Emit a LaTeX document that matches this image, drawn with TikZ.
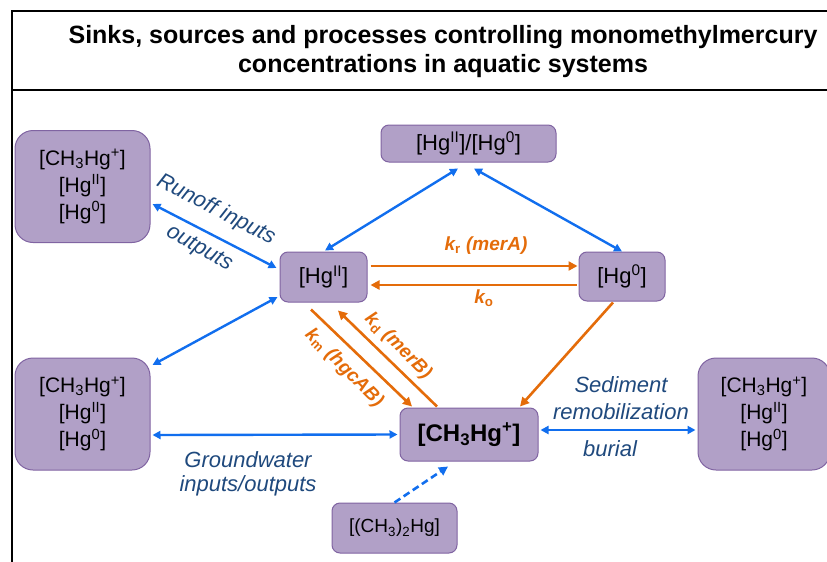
\documentclass[tikz,border=0pt]{standalone}
\usepackage{fontspec}
\setmainfont{Liberation Sans}
\usetikzlibrary{arrows.meta}
\definecolor{boxfill}{RGB}{177,160,199}
\definecolor{boxline}{RGB}{128,100,162}
\definecolor{arrblue}{RGB}{17,110,238}
\definecolor{arrorange}{RGB}{228,108,10}
\definecolor{lblblue}{RGB}{31,73,125}
\tikzset{
  pbox/.style={draw=boxline, fill=boxfill, line width=1pt, rounded corners=8pt, inner sep=0pt, align=center, font=\fontsize{22}{27}\selectfont},
  bigbox/.style={pbox, rounded corners=18pt, minimum width=135pt, minimum height=112pt, font=\fontsize{21}{27}\selectfont},
  bluearr/.style={draw=arrblue, line width=2.4pt, {Triangle[length=8pt,width=8pt]}-{Triangle[length=8pt,width=8pt]}},
  orarr/.style={draw=arrorange, line width=2.6pt, -{Triangle[length=9pt,width=9pt]}},
  lbl/.style={text=lblblue, font=\fontsize{22}{26}\selectfont\itshape, inner sep=0pt},
  klbl/.style={text=arrorange, font=\fontsize{19}{22}\selectfont\bfseries\itshape, inner sep=0pt},
}
\newcommand{\mmhg}{[CH\textsubscript{3}Hg\textsuperscript{+}]}
\newcommand{\hgtwo}{[Hg\textsuperscript{II}]}
\newcommand{\hgzero}{[Hg\textsuperscript{0}]}
\newcommand{\ksub}[1]{k\textsubscript{\upshape #1}}
\begin{document}
\begin{tikzpicture}[x=1pt,y=-1pt]
\useasboundingbox (0,0) rectangle (827,562);
\clip (0,0) rectangle (827,562);
% title frame
\draw[line width=2.2pt] (840,11) -- (12,11) -- (12,570);
\draw[line width=2.2pt] (12,90) -- (840,90);
\node[font=\fontsize{25}{29}\selectfont\bfseries, align=center] (title) at (443,52) {Sinks, sources and processes controlling monomethylmercury\\concentrations in aquatic systems};
% boxes
\node[bigbox] (tl) at (82.5,186.5) {\mmhg\\\hgtwo\\\hgzero};
\node[bigbox] (bl) at (82.5,414) {\mmhg\\\hgtwo\\\hgzero};
\node[bigbox, minimum width=132pt] (rb) at (764,414) {\mmhg\\\hgtwo\\\hgzero};
\node[pbox, minimum width=175pt, minimum height=37pt] (top) at (468.5,143.5) {\hgtwo/\hgzero};
\node[pbox, minimum width=87pt, minimum height=50pt] (hg2) at (323.5,277) {\hgtwo};
\node[pbox, minimum width=86pt, minimum height=49pt] (hg0) at (622,276.5) {\hgzero};
\node[pbox, minimum width=138pt, minimum height=53pt, font=\fontsize{24}{28}\selectfont\bfseries] (mm) at (469,434.5) {\mmhg};
\node[pbox, minimum width=125pt, minimum height=50pt, font=\fontsize{19}{22}\selectfont] (dm) at (394.5,528) {[(CH\textsubscript{3})\textsubscript{2}Hg]};
% blue arrows
\draw[bluearr] ([xshift=2pt,yshift=-17.5pt]tl.east) -- ([xshift=-3pt,yshift=9pt]hg2.west);
\draw[bluearr] ([xshift=1.5pt,yshift=1pt]hg2.north) -- ([xshift=-10.5pt,yshift=-6pt]top.south);
\draw[bluearr] ([xshift=5.5pt,yshift=-6pt]top.south) -- (hg0.north);
\draw[bluearr] ([xshift=-2pt,yshift=-20pt]hg2.west) -- ([xshift=2pt,yshift=49pt]bl.east);
\draw[bluearr] ([xshift=2pt,yshift=-21pt]bl.east) -- ([xshift=-2pt]mm.west);
\draw[bluearr] ([xshift=2pt,yshift=4.5pt]mm.east) -- ([xshift=-2pt,yshift=-16pt]rb.west);
\draw[draw=arrblue, line width=2.6pt, dash pattern=on 7pt off 4pt, -{Triangle[length=9pt,width=9pt]}] (dm.north) -- ([xshift=-21pt,yshift=-5pt]mm.south);
% orange arrows
\draw[orarr] ([xshift=3pt,yshift=11pt]hg2.east) -- ([xshift=-1pt,yshift=10.5pt]hg0.west);
\draw[orarr] ([xshift=-2pt,yshift=-8.5pt]hg0.west) -- ([xshift=3pt,yshift=-8pt]hg2.east);
\draw[orarr] ([xshift=-12.5pt,yshift=-7pt]hg2.south) -- ([xshift=-57pt,yshift=1pt]mm.north);
\draw[orarr] ([xshift=-32pt,yshift=1pt]mm.north) -- ([xshift=14.5pt,yshift=-8pt]hg2.south);
\draw[orarr] ([xshift=-9pt,yshift=-1pt]hg0.south) -- ([xshift=51pt,yshift=1pt]mm.north);
% labels
\node[lbl, rotate=-27] (runoff) at (216,210) {Runoff inputs};
\node[lbl, rotate=-29] (outp) at (199,249) {outputs};
\node[klbl] (kr) at (486,246) {\ksub{r} (merA)};
\node[klbl] (ko) at (484,298) {\ksub{o}};
\node[klbl, rotate=-45] (km) at (344,368) {\ksub{m} (hgcAB)};
\node[klbl, rotate=-45] (kd) at (398,346) {\ksub{d} (merB)};
\node[lbl] (sed) at (621,385) {Sediment};
\node[lbl] (remob) at (621,412) {remobilization};
\node[lbl] (bur) at (610,449) {burial};
\node[lbl] (gw) at (248,460) {Groundwater};
\node[lbl] (io) at (248,486) {inputs/outputs};
\end{tikzpicture}
\end{document}
